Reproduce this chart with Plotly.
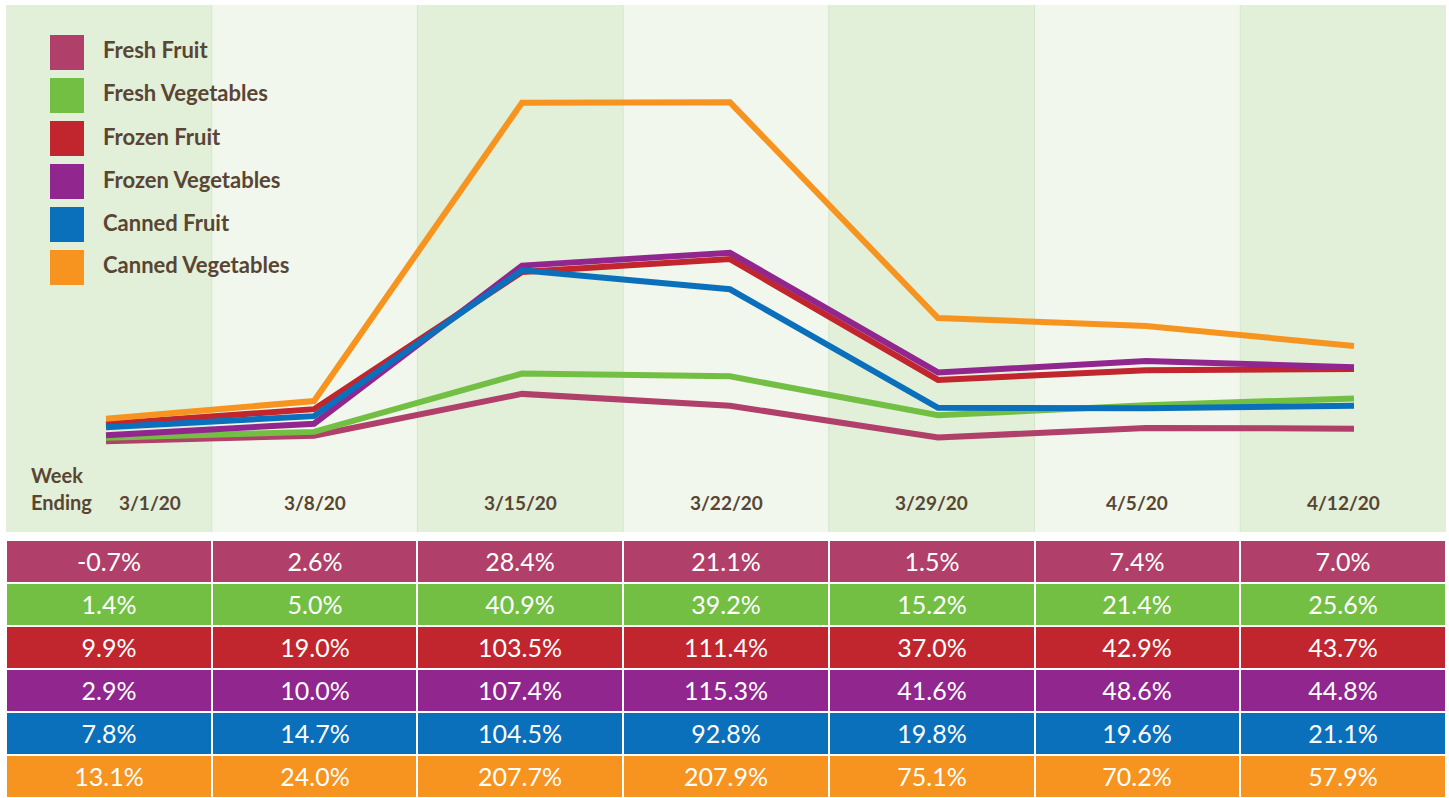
import plotly.graph_objects as go

weeks = ["3/1/20", "3/8/20", "3/15/20", "3/22/20", "3/29/20", "4/5/20", "4/12/20"]
series_names = ["Fresh Fruit", "Fresh Vegetables", "Frozen Fruit",
                "Frozen Vegetables", "Canned Fruit", "Canned Vegetables"]
fresh_fruit = [-0.7, 2.6, 28.4, 21.1, 1.5, 7.4, 7.0]
fresh_veg = [1.4, 5.0, 40.9, 39.2, 15.2, 21.4, 25.6]
frozen_fruit = [9.9, 19.0, 103.5, 111.4, 37.0, 42.9, 43.7]
frozen_veg = [2.9, 10.0, 107.4, 115.3, 41.6, 48.6, 44.8]
canned_fruit = [7.8, 14.7, 104.5, 92.8, 19.8, 19.6, 21.1]
canned_veg = [13.1, 24.0, 207.7, 207.9, 75.1, 70.2, 57.9]
all_values = [fresh_fruit, fresh_veg, frozen_fruit, frozen_veg, canned_fruit, canned_veg]
colors = ["#b03f69", "#72bf44", "#c1252d", "#90268e", "#0b70bb", "#f6941f"]

W, H = 1449, 798
BROWN = "#594533"
FONT = "Lato"

fig = go.Figure()

# line chart
xi = list(range(len(weeks)))
for name, vals, col in zip(series_names, all_values, colors):
    fig.add_trace(go.Scatter(x=xi, y=vals, mode="lines", name=name,
                             line=dict(color=col, width=6), showlegend=False,
                             xaxis="x", yaxis="y"))

# table as heatmap
n = len(series_names)
z = [[i] * len(weeks) for i in range(n)]
text = [[f"{v:.1f}%" for v in vals] for vals in all_values]
cscale = []
for i, c in enumerate(colors):
    cscale.append([i / n, c])
    cscale.append([(i + 1) / n, c])
fig.add_trace(go.Heatmap(x=weeks, y=series_names, z=z, text=text,
                         texttemplate="%{text}",
                         textfont=dict(color="white", size=25, family=FONT),
                         colorscale=cscale, zmin=-0.5, zmax=n - 0.5,
                         showscale=False, xgap=2, ygap=2, hoverinfo="skip",
                         xaxis="x2", yaxis="y2"))

top_y0 = 1 - 532 / H
top_y1 = 1 - 5 / H
tab_y1 = 1 - 540 / H

# y mapping: pixel = 440 - 1.624*v
ppu = 1.624
y0px = 440
yr = [(y0px - 532) / ppu, (y0px - 5) / ppu]
# x mapping: pixel = 106 + 208*i
xr = [(0 - 106) / 208, (W - 106) / 208]

shapes = []
col_edges = [6 + i * (1440 / 7) for i in range(8)]
for i in range(7):
    shapes.append(dict(type="rect", xref="paper", yref="paper",
                       x0=col_edges[i] / W, x1=col_edges[i + 1] / W,
                       y0=top_y0, y1=top_y1, layer="below",
                       fillcolor="#e2efd9" if i % 2 == 0 else "#f1f7ec",
                       line=dict(width=0)))
for i in range(1, 7):
    shapes.append(dict(type="line", xref="paper", yref="paper",
                       x0=col_edges[i] / W, x1=col_edges[i] / W,
                       y0=top_y0, y1=top_y1, layer="below",
                       line=dict(color="#d3e6c8", width=1)))

annotations = []
# legend
for i, (name, col) in enumerate(zip(series_names, colors)):
    top = 35 + 43 * i
    shapes.append(dict(type="rect", xref="paper", yref="paper",
                       x0=50 / W, x1=84 / W, y0=1 - (top + 35) / H, y1=1 - top / H,
                       fillcolor=col, line=dict(width=0)))
    annotations.append(dict(xref="paper", yref="paper", x=101 / W,
                            y=1 - (top + 15) / H, text=f"<b>{name}</b>",
                            showarrow=False, xanchor="left", yanchor="middle",
                            font=dict(size=22, color=BROWN, family=FONT)))

# x labels
centers = [150] + [(col_edges[i] + col_edges[i + 1]) / 2 for i in range(1, 7)]
for c, w in zip(centers, weeks):
    annotations.append(dict(xref="paper", yref="paper", x=c / W, y=1 - 502 / H,
                            text=f"<b>{w}</b>", showarrow=False,
                            xanchor="center", yanchor="middle",
                            font=dict(size=19, color=BROWN, family=FONT)))
annotations.append(dict(xref="paper", yref="paper", x=29 / W, y=1 - 475 / H,
                        text="<b>Week</b>", showarrow=False, xanchor="left",
                        yanchor="middle", font=dict(size=20, color=BROWN, family=FONT)))
annotations.append(dict(xref="paper", yref="paper", x=29 / W, y=1 - 502 / H,
                        text="<b>Ending</b>", showarrow=False, xanchor="left",
                        yanchor="middle", font=dict(size=20, color=BROWN, family=FONT)))

fig.update_layout(
    width=W, height=H, margin=dict(l=0, r=0, t=0, b=0),
    paper_bgcolor="white", plot_bgcolor="white",
    showlegend=False, shapes=shapes, annotations=annotations,
    xaxis=dict(domain=[0, 1], range=xr, visible=False, fixedrange=True),
    yaxis=dict(domain=[top_y0, top_y1], range=yr, visible=False, fixedrange=True),
    xaxis2=dict(domain=[6 / W, 1446 / W], range=[-0.5, 6.5], visible=False,
                anchor="y2", fixedrange=True),
    yaxis2=dict(domain=[0, tab_y1], range=[n - 0.5, -0.5], visible=False,
                anchor="x2", fixedrange=True),
    font=dict(family=FONT),
)

fig.write_html("out.html", config={"displayModeBar": False},
               post_script="document.body.style.margin='0';")
